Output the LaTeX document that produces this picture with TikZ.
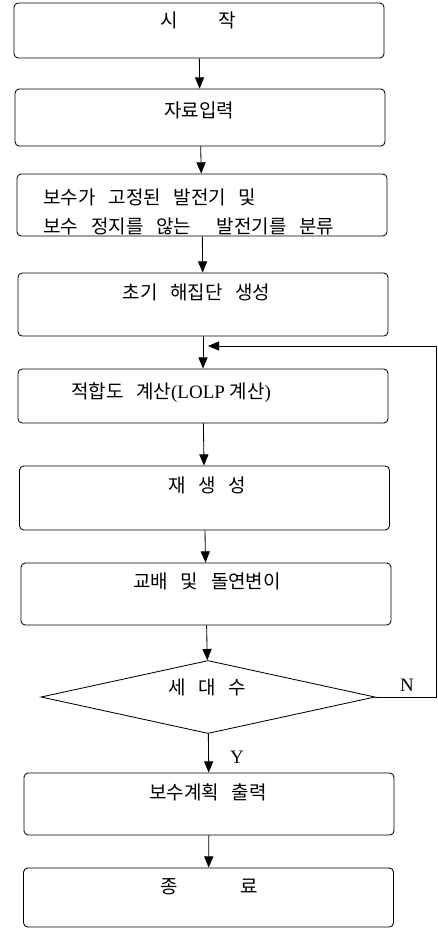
\documentclass[tikz,border=0pt]{standalone}
\usepackage{fontspec}
\setmainfont{Liberation Serif}
\newfontfamily\kr[WordSpace=3]{Noto Sans CJK KR}
\usepackage{tikz}
\usetikzlibrary{calc,arrows.meta,shapes.geometric}

\begin{document}
\begin{tikzpicture}[->, >={Triangle[width=6.5pt, length=8pt]}, line width=0.6pt, box/.style = {rectangle, rounded corners=3pt, draw, fill=white, minimum width=9.25cm, inner sep=0pt}, txt/.style = {font=\fontsize{13.5}{20.6}\selectfont\kr, inner sep=0pt}, lbl/.style = {font=\fontsize{13.5}{16}\selectfont, inner sep=0pt}, test/.style={diamond, draw, fill=white, minimum width=8.35cm, minimum height=1.825cm, inner sep=0pt}]

\useasboundingbox (0,0) rectangle (10.95,-23.225);

% boxes
\path (4.975,-0.7625) node[box, minimum height=1.375cm] (b1) {};
\path (5.0,-2.9375) node[box, minimum height=1.425cm] (b2) {};
\path (5.05,-5.125) node[box, minimum height=1.55cm] (b3) {};
\path (5.075,-7.6125) node[box, minimum height=1.575cm] (b4) {};
\path (5.075,-9.9) node[box, minimum height=1.35cm] (b5) {};
\path (5.1125,-12.45) node[box, minimum height=1.6cm] (b6) {};
\path (5.15,-14.85) node[box, minimum height=1.55cm] (b7) {};
\path (5.2,-17.425) node[test] (d) {};
\path (5.225,-20.1) node[box, minimum height=1.55cm] (b8) {};
\path (5.2125,-22.4375) node[box, minimum height=1.475cm] (b9) {};

% texts
\node[txt] (t1) at (4.9625,-0.5) {시\hspace{2.15em}작};
\node[txt] (t2) at (4.975,-2.75) {자료입력};
\node[txt, align=left, anchor=west] (t3) at (1.075,-5.2875) {보수가 고정된 발전기 및\\보수 정지를 않는\ \ 발전기를 분류};
\node[txt] (t4) at (4.9125,-7.3) {초기 해집단 생성};
\node[txt] (t5) at (4.275,-9.825) {적합도 계산{\rmfamily(LOLP }계산{\rmfamily)}};
\node[txt] (t6) at (5.175,-12.125) {재 생 성};
\node[txt] (t7) at (5.175,-14.525) {교배 및 돌연변이};
\node[txt] (td) at (5.1875,-17.175) {세 대 수};
\node[txt] (t8) at (5.2,-19.8) {보수계획 출력};
\node[txt] (t9) at (5.225,-22.175) {종\hspace{3.3em}료};

\node[lbl] (ny) at (10.175,-17.125) {N};
\node[lbl] (yy) at (5.925,-18.925) {Y};

\coordinate (rc) at (10.9,-8.65);
\coordinate (j) at (5.2,-8.65);

\path
 (b1) edge (b2)
 (b2) edge (b3)
 (b3) edge (b4)
 (b4) edge (b5)
 (b5) edge (b6)
 (b6) edge (b7)
 (b7) edge (d)
 (d) edge (b8)
 (b8) edge (b9);

\draw (d.east) -| (rc) -- (j);
\end{tikzpicture}
\end{document}
